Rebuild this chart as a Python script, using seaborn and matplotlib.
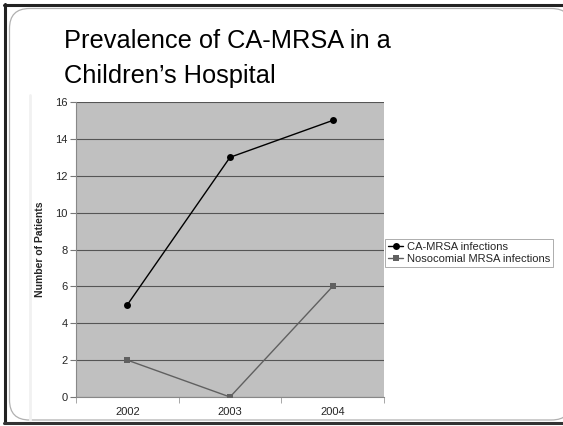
import matplotlib
matplotlib.use("Agg")
import matplotlib.pyplot as plt
import seaborn as sns
import pandas as pd
from matplotlib.patches import FancyBboxPatch
from matplotlib.lines import Line2D

years = ["2002", "2003", "2004"]
ca_mrsa = [5, 13, 15]
nosocomial = [2, 0, 6]
series_names = ["CA-MRSA infections", "Nosocomial MRSA infections"]
y_ticks = [0, 2, 4, 6, 8, 10, 12, 14, 16]

df = pd.DataFrame({
    "Year": years * 2,
    "Patients": ca_mrsa + nosocomial,
    "Series": [series_names[0]] * 3 + [series_names[1]] * 3,
})

sns.set_style("white")
plt.rcParams["font.family"] = ["Liberation Sans", "DejaVu Sans"]

W, H = 563, 426
fig = plt.figure(figsize=(W / 100, H / 100), dpi=100)

# slide frame in pixel coordinates
bg = fig.add_axes([0, 0, 1, 1], zorder=-10)
bg.set_xlim(0, W)
bg.set_ylim(H, 0)
bg.axis("off")
bg.add_patch(FancyBboxPatch((9.5, 8.5), 562, 411.5,
                            boxstyle="round,pad=0,rounding_size=20",
                            facecolor="white", edgecolor="#b0b0b0", lw=0.9))
bg.add_line(Line2D([4, 563], [4.5, 4.5], color="#222222", lw=2.2))
bg.add_line(Line2D([4.5, 4.5], [4, 423], color="#222222", lw=2.2))
bg.add_line(Line2D([4, 563], [423, 423], color="#333333", lw=2.2))
bg.add_line(Line2D([29.5, 29.5], [95, 420], color="#f1f1f1", lw=2))

fig.text(64 / W, 1 - 48 / H, "Prevalence of CA-MRSA in a", fontsize=18.3, color="black")
fig.text(64 / W, 1 - 83 / H, "Children\u2019s Hospital", fontsize=18.3, color="black")

ax = fig.add_axes([76 / W, 1 - 397 / H, (384 - 76) / W, (397 - 102) / H])
ax.set_facecolor("#c0c0c0")

sns.lineplot(data=df, x="Year", y="Patients", hue="Series", style="Series",
             palette=["black", "#606060"], markers=["o", "s"], dashes=False,
             markersize=5, markeredgewidth=0, linewidth=1.0, ax=ax, zorder=3)

ax.set_ylim(0, 16)
ax.set_xlim(-0.5, 2.5)
ax.set_yticks(y_ticks)
ax.yaxis.grid(True, color="#555555", lw=0.8)
ax.set_axisbelow(True)
ax.tick_params(axis="y", labelsize=8, length=4, color="#777777", left=True, pad=2)
ax.tick_params(axis="x", labelsize=8, length=0, pad=7)
ax.set_xticks([-0.5, 0.5, 1.5, 2.5], minor=True)
ax.tick_params(axis="x", which="minor", length=4, bottom=True, color="#999999")
ax.set_xlabel("")
ax.set_ylabel("Number of Patients", fontsize=7.5, fontweight="bold", labelpad=7)
for s in ["top", "right"]:
    ax.spines[s].set_visible(False)
ax.spines["left"].set_color("#888888")
ax.spines["bottom"].set_color("#888888")
ax.spines["left"].set_linewidth(0.8)
ax.spines["bottom"].set_linewidth(0.8)

leg = ax.legend(loc="center left", bbox_to_anchor=(1.0, 0.488), fontsize=8, frameon=True,
                fancybox=False, edgecolor="#888888", borderpad=0.25, handlelength=1.4,
                handletextpad=0.3, labelspacing=0.15, borderaxespad=0.1)
leg.get_frame().set_linewidth(0.6)

fig.savefig("out.png", dpi=100)
